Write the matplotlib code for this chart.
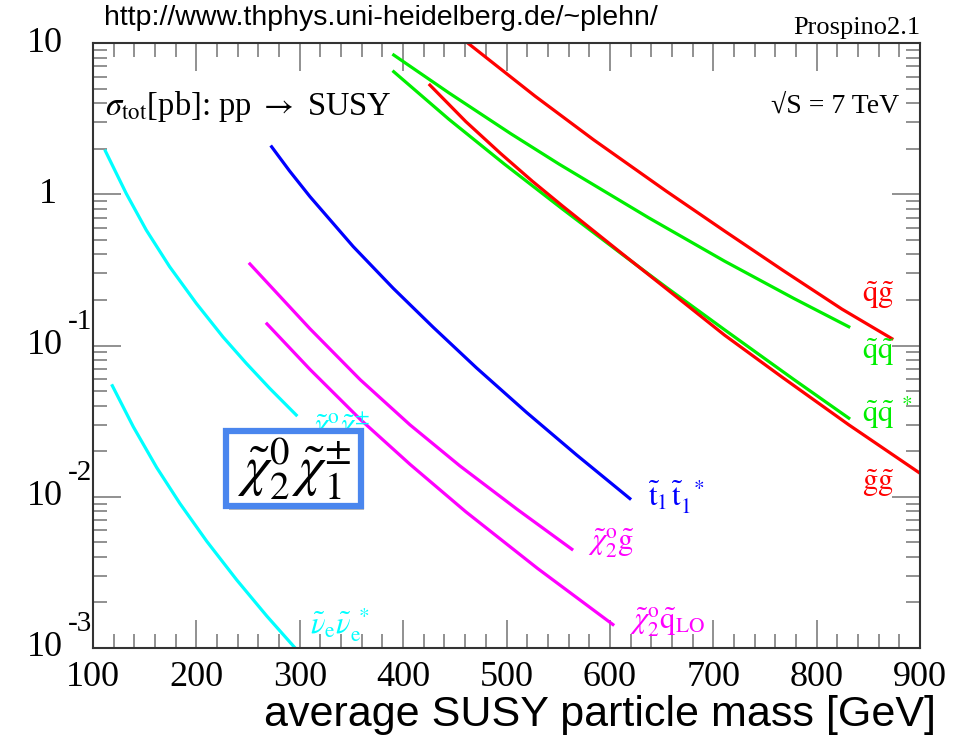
import numpy as np
import matplotlib.pyplot as plt
import matplotlib.patches as mpatches
import matplotlib.patheffects as pe
from matplotlib.ticker import MultipleLocator, LogLocator, NullFormatter
from matplotlib import transforms

plt.rcParams['font.family'] = ['Liberation Serif', 'DejaVu Serif']
plt.rcParams['mathtext.fontset'] = 'stix'

# sigma_tot [pb] vs average SUSY mass [GeV], sqrt(S) = 7 TeV
m_chi2chi1 = [112, 132.2, 151.5, 174.1, 199.9, 225.7, 248.3, 270.9, 296.6]
s_chi2chi1 = [1.93, 1.01, 0.580, 0.332, 0.190, 0.114, 0.0762, 0.0521, 0.0347]

m_snu = [118.7, 139, 161.6, 184.1, 210, 239, 268, 295.5]
s_snu = [0.0542, 0.0290, 0.0156, 0.00902, 0.00508, 0.00282, 0.00163, 0.00100]

m_stop = [272.8, 290, 309.9, 351.7, 390.4, 429.1, 471, 519.4, 567.8, 619.3]
s_stop = [2.06, 1.43, 0.964, 0.451, 0.239, 0.132, 0.0711, 0.0361, 0.0189, 0.00973]

m_chi2gl = [251.8, 309.9, 358.5, 406.6, 454.9, 510.3, 563.2]
s_chi2gl = [0.346, 0.129, 0.0594, 0.0299, 0.0160, 0.00826, 0.00450]

m_chi2sq = [268.3, 309.9, 358.5, 406.6, 460.6, 530, 602.9]
s_chi2sq = [0.139, 0.0695, 0.0325, 0.0164, 0.00796, 0.00336, 0.00143]

m_sqgl = [462.5, 527.7, 584.3, 654.4, 711, 767.7, 824.5, 872.8]
s_sqgl = [10.0, 4.45, 2.29, 1.05, 0.571, 0.313, 0.174, 0.111]

m_sqsq = [390.9, 444.3, 504.3, 551, 637.7, 711, 777.8, 831.1]
s_sqsq = [8.33, 4.68, 2.51, 1.58, 0.698, 0.361, 0.205, 0.133]

m_sqsqbar = [390.9, 444.3, 497.6, 554.4, 611, 654.4, 711, 777.8, 831.1]
s_sqsqbar = [6.46, 3.13, 1.59, 0.796, 0.405, 0.243, 0.127, 0.0597, 0.0331]

m_glgl = [425.9, 460.7, 494.3, 525, 554.4, 611, 654.4, 711, 767.7, 831.1, 900]
s_glgl = [5.27, 3.02, 1.86, 1.22, 0.834, 0.409, 0.238, 0.117, 0.0610, 0.0299, 0.0143]

y_ticks = [1e-3, 1e-2, 1e-1, 1, 10]
y_base = ['10', '10', '10', '1', '10']
y_exp = ['-3', '-2', '-1', '', '']

fig = plt.figure(figsize=(9.63, 7.38), dpi=100)
ax = fig.add_axes([93 / 963, 1 - 648 / 738, 827 / 963, 605 / 738])

lw = 2.3
ax.plot(m_chi2chi1, s_chi2chi1, color='#00ffff', lw=lw)
ax.plot(m_snu, s_snu, color='#00ffff', lw=lw)
ax.plot(m_stop, s_stop, color='#0000ff', lw=lw)
ax.plot(m_chi2gl, s_chi2gl, color='#ff00ff', lw=lw)
ax.plot(m_chi2sq, s_chi2sq, color='#ff00ff', lw=lw)
ax.plot(m_sqgl, s_sqgl, color='#ff0000', lw=lw)
ax.plot(m_sqsq, s_sqsq, color='#00ee00', lw=lw)
ax.plot(m_sqsqbar, s_sqsqbar, color='#00ee00', lw=lw)
ax.plot(m_glgl, s_glgl, color='#ff0000', lw=lw)

ax.set_yscale('log')
ax.set_xlim(100, 900)
ax.set_ylim(1e-3, 10)

# ROOT-like frame: ticks inside on all four sides
ax.xaxis.set_major_locator(MultipleLocator(100))
ax.xaxis.set_minor_locator(MultipleLocator(20))
ax.yaxis.set_major_locator(LogLocator(base=10))
ax.yaxis.set_minor_locator(LogLocator(base=10, subs=np.arange(2, 10)))
ax.yaxis.set_minor_formatter(NullFormatter())
ax.tick_params(which='both', direction='in', top=True, right=True, color='#888888', width=1.3)
ax.tick_params(which='major', length=20)
ax.tick_params(which='minor', length=10)
ax.tick_params(axis='x', labelsize=26, pad=9)
ax.set_yticks(y_ticks)
ax.set_yticklabels([])
for sp in ax.spines.values():
    sp.set_color('#333333')
    sp.set_linewidth(1.5)

# y labels drawn as "10" with a detached exponent
ytr = ax.get_yaxis_transform()
etr = transforms.offset_copy(ytr, fig=fig, x=0, y=17, units='points')
for v, b, e in zip(y_ticks, y_base, y_exp):
    xr = -0.037 if b == '10' else -0.044
    ax.text(xr, v, b, transform=ytr, ha='right', va='center', fontsize=26, clip_on=False)
    if e:
        ax.text(-0.030, v, e, transform=etr, ha='left', va='center', fontsize=21, clip_on=False)

fig.text(936 / 963, 1 - 715 / 738, 'average SUSY particle mass [GeV]',
         family=['Liberation Sans', 'DejaVu Sans'], fontsize=31, ha='right', va='center')

fig.text(104 / 963, 1 - 18 / 738, 'http://www.thphys.uni-heidelberg.de/~plehn/',
         family=['Liberation Sans', 'DejaVu Sans'], fontsize=20.5, va='center')
fig.text(920 / 963, 1 - 28 / 738, 'Prospino2.1', fontsize=19, ha='right', va='center')

ax.text(0.015, 0.895, r'$\sigma_{\rm tot}$[pb]: pp $\rightarrow$ SUSY', transform=ax.transAxes,
        fontsize=23.5, va='center')
ax.text(0.975, 0.895, '\u221aS = 7 TeV', transform=ax.transAxes,
        fontsize=20, ha='right', va='center')

# process labels at the end of each curve
lab = dict(fontsize=22, va='center')
ax.text(843.7, 0.216, r'$\tilde{\rm q}\tilde{\rm g}$', color='#ff0000', **lab)
ax.text(843.7, 0.0906, r'$\tilde{\rm q}\tilde{\rm q}$', color='#00ee00', **lab)
ax.text(843.7, 0.0358, r'$\tilde{\rm q}\tilde{\rm q}^{\ *}$', color='#00ee00', **lab)
ax.text(843.7, 0.0123, r'$\tilde{\rm g}\tilde{\rm g}$', color='#ff0000', **lab)
ax.text(636.8, 0.0100, r'$\tilde{\rm t}_{1\,}\tilde{\rm t}_1^{\ \ *}$', color='#0000ff', **lab)
ax.text(578.7, 0.00494, r'$\tilde{\chi}_2^{\rm o}\tilde{\rm g}$', color='#ff00ff', **lab)
ax.text(619.3, 0.00149, r'$\tilde{\chi}_2^{\rm o}\tilde{\rm q}_{\rm LO}$', color='#ff00ff', **lab)
ax.text(309.9, 0.00142, r'$\tilde{\nu}_{\rm e}\tilde{\nu}_{\rm e}^{\ *}$', color='#00ffff', **lab)
ax.text(309.9, 0.0285, r'$\tilde{\chi}_2^{\rm o}\tilde{\chi}_1^{\pm}$', color='#00ffff', **lab)

# highlighted callout box
box = mpatches.Rectangle((226 / 963, 1 - 506 / 738), 135 / 963, 75 / 738, transform=fig.transFigure,
                         fc='white', ec='#4a86ee', lw=4.5, zorder=5,
                         path_effects=[pe.withSimplePatchShadow(offset=(2, -3), shadow_rgbFace='#555555', alpha=0.4)])
fig.patches.append(box)
fig.text(294 / 963, 1 - 469 / 738, r'$\tilde{\chi}_2^0\,\tilde{\chi}_1^{\pm}$', fontsize=40,
         ha='center', va='center', zorder=6)

fig.savefig('out.png', dpi=100)
